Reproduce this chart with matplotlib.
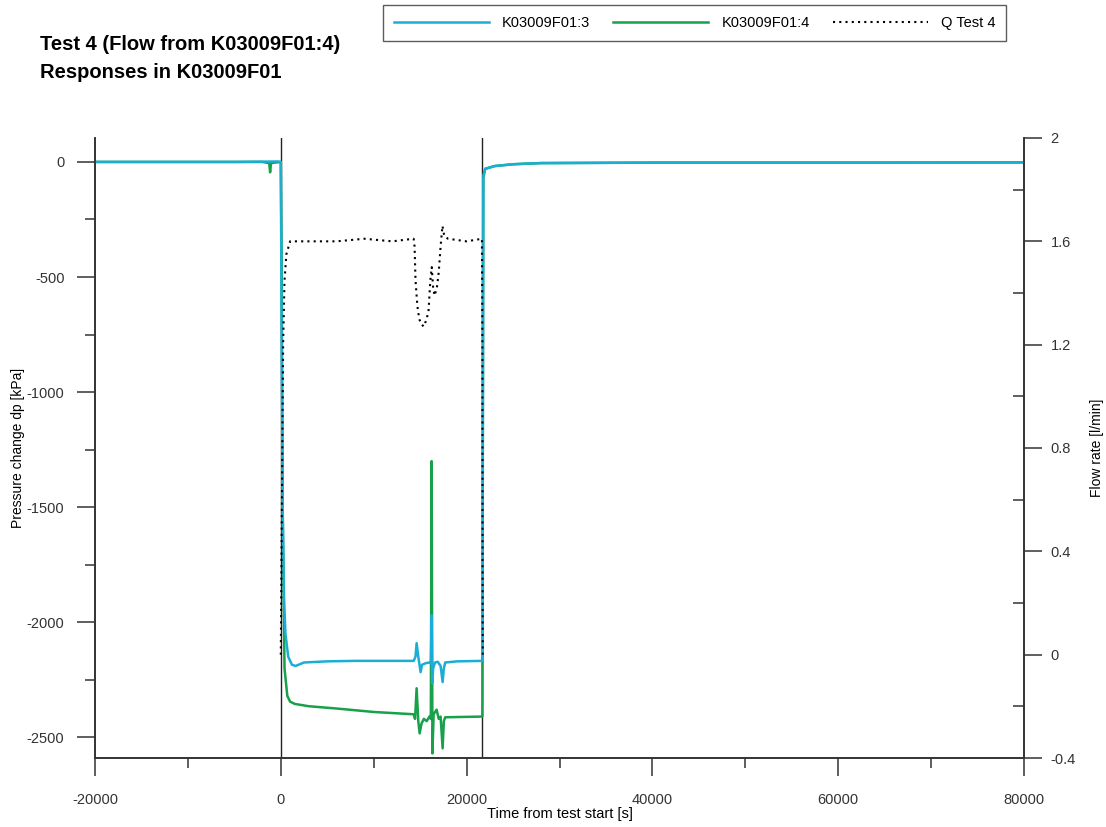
"""Test 4: pressure responses in K03009F01 and flow rate."""

import matplotlib
matplotlib.use("Agg")
import matplotlib.pyplot as plt
from matplotlib.ticker import MultipleLocator

plt.rcParams["font.family"] = ["Liberation Sans", "DejaVu Sans"]
plt.rcParams["axes.unicode_minus"] = False

# Pressure change, K03009F01:3 (section 3)
t_p3 = [-20000, -5000, -300, 0, 100, 200, 350, 500, 800, 1200, 1600, 2500,
        5000, 8000, 12000, 14300, 14500, 14620, 14800, 15050, 15200, 15600,
        16000, 16150, 16237, 16300, 16400, 16600, 16900, 17200, 17420, 17550,
        17700, 19000, 21700, 21750, 21800, 22000, 23000, 25000, 28000, 40000,
        60000, 80000]
p3 = [0, 0, 2, 0, -800, -1500, -1900, -2050, -2150, -2185, -2190, -2175,
      -2170, -2168, -2168, -2168, -2150, -2091, -2150, -2217, -2185, -2178,
      -2175, -2180, -1970, -2265, -2200, -2175, -2172, -2190, -2260, -2200,
      -2175, -2170, -2168, -1000, -60, -30, -18, -10, -5, -3, -3, -2]

# Pressure change, K03009F01:4 (pumped section)
t_p4 = [-20000, -2000, -1250, -1150, -1050, 0, 100, 200, 400, 700, 1000,
        1500, 3000, 6000, 10000, 14300, 14450, 14620, 14800, 14946, 15150,
        15400, 15700, 16000, 16150, 16237, 16320, 16450, 16770, 17000, 17200,
        17420, 17550, 17700, 19000, 21700, 21750, 21800, 22000, 23000, 25000,
        28000, 40000, 60000, 80000]
p4 = [0, 0, -5, -45, -5, 0, -500, -1500, -2200, -2320, -2345,
      -2355, -2365, -2375, -2390, -2400, -2420, -2287, -2430, -2483, -2440,
      -2420, -2430, -2410, -2420, -1300, -2570, -2400, -2380, -2420, -2410,
      -2548, -2430, -2413, -2412, -2410, -1200, -70, -30, -18, -10,
      -5, -3, -3, -2]

# Flow rate, Q Test 4
t_q = [0, 100, 250, 400, 600, 1000, 3000, 6000, 9000, 12000, 14300, 14400,
       14500, 14700, 14900, 15100, 15400, 15700, 15900, 16100, 16250, 16400,
       16550, 16800, 17000, 17200, 17400, 17600, 18000, 20000, 21650, 21700,
       21720, 21740]
q = [0, 0.5, 1.2, 1.45, 1.55, 1.6, 1.6, 1.6, 1.61, 1.6, 1.61, 1.58,
     1.45, 1.35, 1.30, 1.28, 1.27, 1.30, 1.33, 1.45, 1.50, 1.42,
     1.39, 1.42, 1.48, 1.58, 1.66, 1.62, 1.61, 1.6, 1.61, 1.2,
     0.4, 0.0]

# start and stop of the flow period
events = [0, 21700]

blue = "#1aaed4"
green = "#18a04a"

fig = plt.figure(figsize=(11.06, 8.27), dpi=100)
ax = fig.add_axes([95 / 1106, 1 - 758 / 827, 929 / 1106, 620 / 827])
ax2 = ax.twinx()

for t in events:
    ax.axvline(t, color="#222222", lw=1.0, zorder=1)

l4, = ax.plot(t_p4, p4, color=green, lw=1.8, zorder=2)
l3, = ax.plot(t_p3, p3, color=blue, lw=1.8, zorder=3)
lq, = ax2.plot(t_q, q, color="black", lw=1.5, linestyle=(0, (1, 2)))

ax.set_xlim(-20000, 80000)
ax.set_ylim(-2590, 104)
ax2.set_ylim(-0.4, 2.0)

ax.xaxis.set_major_locator(MultipleLocator(20000))
ax.xaxis.set_minor_locator(MultipleLocator(10000))
ax.yaxis.set_major_locator(MultipleLocator(500))
ax.yaxis.set_minor_locator(MultipleLocator(250))
ax2.yaxis.set_minor_locator(MultipleLocator(0.2))
ax2.set_yticks([-0.4, 0, 0.4, 0.8, 1.2, 1.6, 2])
ax2.set_yticklabels(["-0.4", "0", "0.4", "0.8", "1.2", "1.6", "2"])

for a in (ax, ax2):
    a.spines["top"].set_visible(False)
    for s in ("left", "right", "bottom"):
        a.spines[s].set_color("#333333")
        a.spines[s].set_linewidth(1.2)

ax.tick_params(which="major", direction="out", length=13, width=1.1,
               labelsize=10.5, pad=9, colors="#333333", labelcolor="#333333")
ax.tick_params(axis="x", which="major", pad=12)
ax.tick_params(which="minor", direction="out", length=7, width=1.1,
               colors="#333333")
ax2.tick_params(which="major", direction="out", length=13, width=1.1,
                labelsize=10.5, pad=6, colors="#333333", labelcolor="#333333")
ax2.tick_params(which="minor", direction="in", length=8, width=1.1,
                colors="#333333")

ax.set_xlabel("Time from test start [s]", fontsize=10.5, labelpad=0)
ax.set_ylabel("Pressure change dp [kPa]", fontsize=10, labelpad=1)
ax2.set_ylabel("Flow rate [l/min]", fontsize=10, labelpad=10)

fig.text(40 / 1106, 1 - 44 / 827, "Test 4 (Flow from K03009F01:4)",
         fontsize=14.5, fontweight="bold", va="center")
fig.text(40 / 1106, 1 - 73 / 827, "Responses in K03009F01",
         fontsize=14.5, fontweight="bold", va="center")

leg = fig.legend([l3, l4, lq], ["K03009F01:3", "K03009F01:4", "Q Test 4"],
                 loc="upper left", bbox_to_anchor=(383 / 1106, 1 - 5 / 827),
                 ncol=3, fontsize=10.5, handlelength=6.5, handletextpad=0.9,
                 columnspacing=1.6, borderpad=0.75, fancybox=False,
                 frameon=True, borderaxespad=0)
leg.get_frame().set_edgecolor("#333333")
leg.get_frame().set_linewidth(1.0)

plt.savefig("out.png", dpi=100)
plt.close()
